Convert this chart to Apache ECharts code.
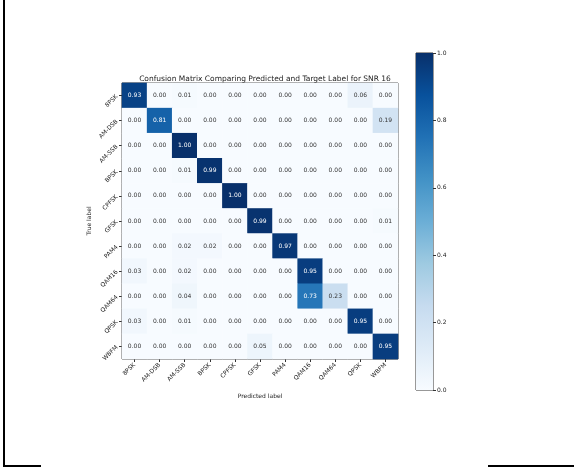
<!DOCTYPE html>
<html>
<head>
<meta charset="utf-8">
<script src="https://cdn.jsdelivr.net/npm/echarts@6/dist/echarts.min.js"></script>
<style>
  html, body { margin: 0; padding: 0; background: #fff; }
  #chart { width: 574px; height: 471px; }
</style>
</head>
<body>
<div id="chart"></div>
<script>
// Modulation classes (rows = true label, columns = predicted label)
const classes = ['8PSK', 'AM-DSB', 'AM-SSB', 'BPSK', 'CPFSK', 'GFSK', 'PAM4', 'QAM16', 'QAM64', 'QPSK', 'WBFM'];

// Normalised confusion matrix at SNR 16, one row per true class
const row8PSK  = [0.93, 0.00, 0.01, 0.00, 0.00, 0.00, 0.00, 0.00, 0.00, 0.06, 0.00];
const rowAMDSB = [0.00, 0.81, 0.00, 0.00, 0.00, 0.00, 0.00, 0.00, 0.00, 0.00, 0.19];
const rowAMSSB = [0.00, 0.00, 1.00, 0.00, 0.00, 0.00, 0.00, 0.00, 0.00, 0.00, 0.00];
const rowBPSK  = [0.00, 0.00, 0.01, 0.99, 0.00, 0.00, 0.00, 0.00, 0.00, 0.00, 0.00];
const rowCPFSK = [0.00, 0.00, 0.00, 0.00, 1.00, 0.00, 0.00, 0.00, 0.00, 0.00, 0.00];
const rowGFSK  = [0.00, 0.00, 0.00, 0.00, 0.00, 0.99, 0.00, 0.00, 0.00, 0.00, 0.01];
const rowPAM4  = [0.00, 0.00, 0.02, 0.02, 0.00, 0.00, 0.97, 0.00, 0.00, 0.00, 0.00];
const rowQAM16 = [0.03, 0.00, 0.02, 0.00, 0.00, 0.00, 0.00, 0.95, 0.00, 0.00, 0.00];
const rowQAM64 = [0.00, 0.00, 0.04, 0.00, 0.00, 0.00, 0.00, 0.73, 0.23, 0.00, 0.00];
const rowQPSK  = [0.03, 0.00, 0.01, 0.00, 0.00, 0.00, 0.00, 0.00, 0.00, 0.95, 0.00];
const rowWBFM  = [0.00, 0.00, 0.00, 0.00, 0.00, 0.05, 0.00, 0.00, 0.00, 0.00, 0.95];

const matrixRows = [row8PSK, rowAMDSB, rowAMSSB, rowBPSK, rowCPFSK, rowGFSK, rowPAM4, rowQAM16, rowQAM64, rowQPSK, rowWBFM];

// Colour bar tick labels
const colorbarTicks = [0.0, 0.2, 0.4, 0.6, 0.8, 1.0];

// matplotlib "Blues" colour map stops
const blues = ['#f7fbff', '#deebf7', '#c6dbef', '#9ecae1', '#6baed6', '#4292c6', '#2171b5', '#08519c', '#08306b'];

const heatData = [];
matrixRows.forEach((row, r) => {
  row.forEach((v, c) => heatData.push({
    value: [c, r, v],
    // white text on the dark cells, dark text elsewhere
    label: { color: v > 0.5 ? '#ffffff' : '#333333' }
  }));
});

const FONT = 'DejaVu Sans';
const chart = echarts.init(document.getElementById('chart'), null, { renderer: 'canvas' });

chart.setOption({
  backgroundColor: '#ffffff',
  animation: false,
  textStyle: { fontFamily: FONT },
  title: {
    text: 'Confusion Matrix Comparing Predicted and Target Label for SNR 16',
    left: 260, top: 70, textAlign: 'center',
    textStyle: { fontFamily: FONT, fontSize: 7.5, fontWeight: 'normal', color: '#222' }
  },
  grid: [
    { left: 122, top: 83, width: 276, height: 276, show: true, borderColor: '#333', borderWidth: 1, backgroundColor: 'transparent' },
    { left: 416, top: 53, width: 17, height: 337, show: true, borderColor: '#333', borderWidth: 1, backgroundColor: 'transparent' }
  ],
  xAxis: [
    {
      type: 'category', gridIndex: 0, data: classes,
      name: 'Predicted label', nameLocation: 'middle', nameGap: 34,
      nameTextStyle: { fontFamily: FONT, fontSize: 6, color: '#222' },
      axisLine: { show: false },
      axisTick: { show: true, alignWithLabel: true, length: 3, lineStyle: { color: '#333' } },
      axisLabel: { rotate: 45, fontSize: 6, color: '#222', fontFamily: FONT, margin: 5, interval: 0 },
      splitLine: { show: false }
    },
    {
      type: 'category', gridIndex: 1, data: [''],
      axisLine: { show: false }, axisTick: { show: false }, axisLabel: { show: false }
    }
  ],
  yAxis: [
    {
      type: 'category', gridIndex: 0, data: classes, inverse: true,
      name: 'True label', nameLocation: 'middle', nameGap: 30, nameRotate: 90,
      nameTextStyle: { fontFamily: FONT, fontSize: 6, color: '#222' },
      axisLine: { show: false },
      axisTick: { show: true, alignWithLabel: true, length: 3, lineStyle: { color: '#333' } },
      axisLabel: { rotate: 45, fontSize: 6, color: '#222', fontFamily: FONT, margin: 5, interval: 0 },
      splitLine: { show: false }
    },
    {
      type: 'value', gridIndex: 1, min: 0, max: 1, interval: 0.2, position: 'right',
      axisLine: { show: false },
      axisTick: { show: true, length: 3, lineStyle: { color: '#333' } },
      axisLabel: {
        fontSize: 6, color: '#222', fontFamily: FONT, margin: 4,
        formatter: v => (colorbarTicks.some(t => Math.abs(t - v) < 1e-9) ? v.toFixed(1) : '')
      },
      splitLine: { show: false }
    }
  ],
  visualMap: {
    show: false, type: 'continuous', min: 0, max: 1, seriesIndex: 0,
    inRange: { color: blues }
  },
  series: [
    {
      type: 'heatmap', xAxisIndex: 0, yAxisIndex: 0, data: heatData,
      label: {
        show: true, fontSize: 6, fontFamily: FONT,
        formatter: p => p.value[2].toFixed(2)
      },
      itemStyle: { borderWidth: 0 },
      emphasis: { disabled: true }
    },
    {
      type: 'bar', xAxisIndex: 1, yAxisIndex: 1, data: [1], barWidth: '100%', silent: true,
      itemStyle: {
        color: new echarts.graphic.LinearGradient(0, 1, 0, 0,
          blues.map((c, i) => ({ offset: i / (blues.length - 1), color: c })))
      }
    }
  ],
  graphic: [
    { type: 'line', shape: { x1: 4, y1: 0, x2: 4, y2: 467 }, style: { stroke: '#000', lineWidth: 2 } },
    { type: 'line', shape: { x1: 3, y1: 466, x2: 41, y2: 466 }, style: { stroke: '#000', lineWidth: 2 } },
    { type: 'line', shape: { x1: 488, y1: 466, x2: 574, y2: 466 }, style: { stroke: '#000', lineWidth: 2 } }
  ]
});
</script>
</body>
</html>
